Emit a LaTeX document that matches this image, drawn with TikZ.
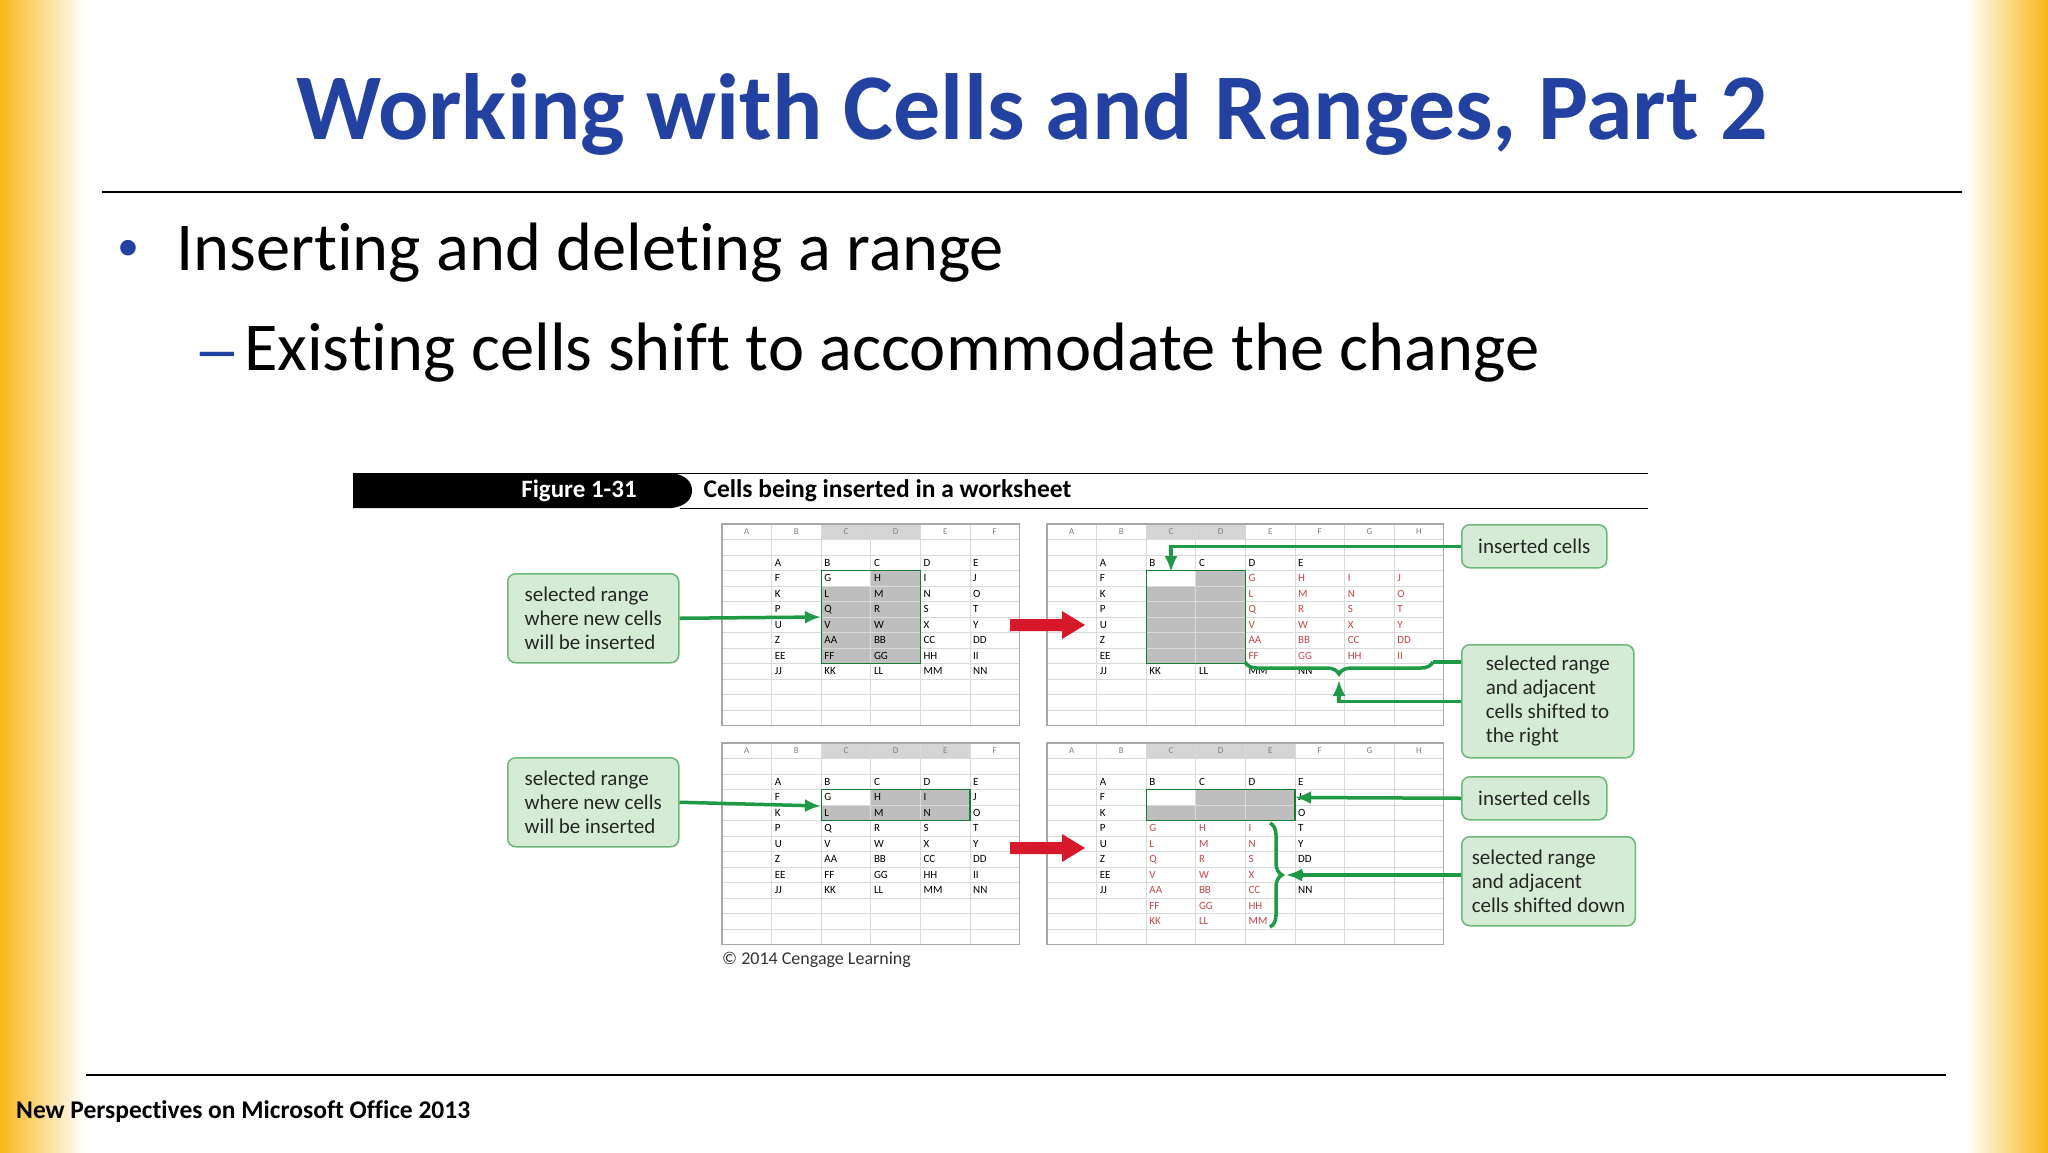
\documentclass[tikz,border=0pt]{standalone}
\usepackage{fontspec}
\setmainfont{Carlito}[Ligatures=NoCommon]
\usetikzlibrary{decorations.pathreplacing,arrows.meta}
\definecolor{titleblue}{HTML}{2341A0}
\definecolor{gl}{HTML}{DADADA}
\definecolor{gborder}{HTML}{A8A8A8}
\definecolor{selgray}{HTML}{BEBEBE}
\definecolor{hdrgray}{HTML}{D4D4D4}
\definecolor{redtxt}{HTML}{C8454A}
\definecolor{gline}{HTML}{1E9A46}
\definecolor{cfill}{HTML}{D5EBD5}
\definecolor{cdraw}{HTML}{6CB77A}
\definecolor{redarrow}{HTML}{D7182A}
\definecolor{yel}{HTML}{F9B718}
\def\cw{49.6}
\def\rh{15.5}
\tikzset{
 cell/.style={anchor=west,inner sep=0pt,font=\fontsize{11}{12}\selectfont},
 hdrtxt/.style={inner sep=0pt,font=\fontsize{9}{10}\selectfont,text=gray},
 callout/.style={draw=cdraw,line width=1.5pt,fill=cfill,rounded corners=8pt,align=left,anchor=north west,inner xsep=12pt,inner ysep=6pt,font=\fontsize{21}{24}\selectfont,text=black!85},
 garrow/.style={draw=gline,line width=3.5pt,-{Latex[length=16pt,width=13pt]}},
 gplain/.style={draw=gline,line width=3.5pt},
}
\newcommand\gridbg[3]{\fill[white] (#1,#2) rectangle ++({#3*\cw},{13*\rh});}
\newcommand\gridlines[4]{%
 \foreach \h in {#4} {\fill[hdrgray] ({#1+\h*\cw},#2) rectangle ++(\cw,\rh);
   \draw[gline!70,line width=1.2pt] ({#1+\h*\cw},{#2+\rh}) -- ++(\cw,0);}
 \foreach \i in {1,...,12} \draw[gl,line width=0.8pt] (#1,{#2+\i*\rh}) -- ++({#3*\cw},0);
 \foreach \j in {1,...,#3} \draw[gl,line width=0.8pt] ({#1+\j*\cw},#2) -- ++(0,{13*\rh});
 \foreach \L [count=\j from 0] in {A,B,C,D,E,F,G,H} {\ifnum\j<#3 \node[hdrtxt] at ({#1+(\j+0.5)*\cw},{#2+0.5*\rh}) {\L};\fi}
 \draw[gborder,line width=1.2pt] (#1,#2) rectangle ++({#3*\cw},{13*\rh});}
\newcommand\putrow[6]{\foreach \t [count=\c] in {#6} \node[cell,text=#5] at ({#1+(#4+\c-1)*\cw+3},{#2+(#3+0.5)*\rh}) {\t};}
\begin{document}
\begin{tikzpicture}[x=1pt,y=-1pt]
\useasboundingbox (0,0) rectangle (2048,1152);
\fill[white] (0,0) rectangle (2048,1152);
\shade[left color=yel,right color=white] (0,0) rectangle (85,1152);
\shade[left color=white,right color=yel] (1965,0) rectangle (2048,1152);
% title
\node[font=\bfseries\fontsize{94}{100}\selectfont,text=titleblue] (title) at (1032,114) {Working with Cells and Ranges, Part 2};
\draw[line width=1.5pt] (102,192) -- (1962,192);
\node[font=\fontsize{44}{44}\selectfont,text=titleblue] (bul) at (128,250) {•};
\node[anchor=west,inner sep=0pt,font=\fontsize{68.5}{72}\selectfont] (b1) at (176,253) {Inserting and deleting a range};
\node[anchor=west,inner sep=0pt,xscale=1.4,font=\fontsize{68.5}{72}\selectfont,text=titleblue] (dash) at (193,363) {–};
\node[anchor=west,inner sep=0pt,font=\fontsize{68.5}{72}\selectfont] (b2) at (244,353) {Existing cells shift to accommodate the change};
\draw[line width=1.5pt] (86,1075) -- (1946,1075);
\node[anchor=west,inner sep=0pt,font=\bfseries\fontsize{25.5}{27}\selectfont] (foot) at (16,1112) {New Perspectives on Microsoft Office 2013};
% figure header
\draw[line width=1pt] (353,473) -- (1648,473);
\draw[line width=1pt] (680,508) -- (1648,508);
\fill[black] (353,473) -- (672,473) .. controls (686,475) and (692,482) .. (692,490.5) .. controls (692,499) and (686,506) .. (672,508) -- (353,508) -- cycle;
\node[text=white,font=\bfseries\fontsize{25}{27}\selectfont] (fig) at (579,491) {Figure 1-31};
\node[anchor=west,font=\bfseries\fontsize{25.5}{27}\selectfont] (figt) at (700,491) {Cells being inserted in a worksheet};
% ===== grid TL
\gridbg{722}{524}{6}
\fill[selgray] ({722+2*\cw},{524+3*\rh}) rectangle ++({2*\cw},{6*\rh});
\fill[white] ({722+2*\cw},{524+3*\rh}) rectangle ++(\cw,\rh);
\gridlines{722}{524}{6}{2,3}
\draw[gline!80!black,line width=1.2pt] ({722+2*\cw},{524+3*\rh}) rectangle ++({2*\cw},{6*\rh});
\putrow{722}{524}{2}{1}{black}{A,B,C,D,E}
\putrow{722}{524}{3}{1}{black}{F,G,H,I,J}
\putrow{722}{524}{4}{1}{black}{K,L,M,N,O}
\putrow{722}{524}{5}{1}{black}{P,Q,R,S,T}
\putrow{722}{524}{6}{1}{black}{U,V,W,X,Y}
\putrow{722}{524}{7}{1}{black}{Z,AA,BB,CC,DD}
\putrow{722}{524}{8}{1}{black}{EE,FF,GG,HH,II}
\putrow{722}{524}{9}{1}{black}{JJ,KK,LL,MM,NN}
% ===== grid TR
\gridbg{1047}{524}{8}
\fill[selgray] ({1047+2*\cw},{524+3*\rh}) rectangle ++({2*\cw},{6*\rh});
\fill[white] ({1047+2*\cw},{524+3*\rh}) rectangle ++(\cw,\rh);
\gridlines{1047}{524}{8}{2,3}
\draw[gline!80!black,line width=1.2pt] ({1047+2*\cw},{524+3*\rh}) rectangle ++({2*\cw},{6*\rh});
\putrow{1047}{524}{2}{1}{black}{A,B,C,D,E}
\putrow{1047}{524}{3}{1}{black}{F}
\putrow{1047}{524}{4}{1}{black}{K}
\putrow{1047}{524}{5}{1}{black}{P}
\putrow{1047}{524}{6}{1}{black}{U}
\putrow{1047}{524}{7}{1}{black}{Z}
\putrow{1047}{524}{8}{1}{black}{EE}
\putrow{1047}{524}{9}{1}{black}{JJ,KK,LL,MM,NN}
\putrow{1047}{524}{3}{4}{redtxt}{G,H,I,J}
\putrow{1047}{524}{4}{4}{redtxt}{L,M,N,O}
\putrow{1047}{524}{5}{4}{redtxt}{Q,R,S,T}
\putrow{1047}{524}{6}{4}{redtxt}{V,W,X,Y}
\putrow{1047}{524}{7}{4}{redtxt}{AA,BB,CC,DD}
\putrow{1047}{524}{8}{4}{redtxt}{FF,GG,HH,II}
% ===== grid BL
\gridbg{722}{743}{6}
\fill[selgray] ({722+2*\cw},{743+3*\rh}) rectangle ++({3*\cw},{2*\rh});
\fill[white] ({722+2*\cw},{743+3*\rh}) rectangle ++(\cw,\rh);
\gridlines{722}{743}{6}{2,3,4}
\draw[gline!80!black,line width=1.2pt] ({722+2*\cw},{743+3*\rh}) rectangle ++({3*\cw},{2*\rh});
\putrow{722}{743}{2}{1}{black}{A,B,C,D,E}
\putrow{722}{743}{3}{1}{black}{F,G,H,I,J}
\putrow{722}{743}{4}{1}{black}{K,L,M,N,O}
\putrow{722}{743}{5}{1}{black}{P,Q,R,S,T}
\putrow{722}{743}{6}{1}{black}{U,V,W,X,Y}
\putrow{722}{743}{7}{1}{black}{Z,AA,BB,CC,DD}
\putrow{722}{743}{8}{1}{black}{EE,FF,GG,HH,II}
\putrow{722}{743}{9}{1}{black}{JJ,KK,LL,MM,NN}
% ===== grid BR
\gridbg{1047}{743}{8}
\fill[selgray] ({1047+2*\cw},{743+3*\rh}) rectangle ++({3*\cw},{2*\rh});
\fill[white] ({1047+2*\cw},{743+3*\rh}) rectangle ++(\cw,\rh);
\gridlines{1047}{743}{8}{2,3,4}
\draw[gline!80!black,line width=1.2pt] ({1047+2*\cw},{743+3*\rh}) rectangle ++({3*\cw},{2*\rh});
\putrow{1047}{743}{2}{1}{black}{A,B,C,D,E}
\putrow{1047}{743}{3}{1}{black}{F}
\putrow{1047}{743}{3}{5}{black}{J}
\putrow{1047}{743}{4}{1}{black}{K}
\putrow{1047}{743}{4}{5}{black}{O}
\putrow{1047}{743}{5}{1}{black}{P}
\putrow{1047}{743}{5}{5}{black}{T}
\putrow{1047}{743}{6}{1}{black}{U}
\putrow{1047}{743}{6}{5}{black}{Y}
\putrow{1047}{743}{7}{1}{black}{Z}
\putrow{1047}{743}{7}{5}{black}{DD}
\putrow{1047}{743}{8}{1}{black}{EE}
\putrow{1047}{743}{8}{5}{black}{II}
\putrow{1047}{743}{9}{1}{black}{JJ}
\putrow{1047}{743}{9}{5}{black}{NN}
\putrow{1047}{743}{5}{2}{redtxt}{G,H,I}
\putrow{1047}{743}{6}{2}{redtxt}{L,M,N}
\putrow{1047}{743}{7}{2}{redtxt}{Q,R,S}
\putrow{1047}{743}{8}{2}{redtxt}{V,W,X}
\putrow{1047}{743}{9}{2}{redtxt}{AA,BB,CC}
\putrow{1047}{743}{10}{2}{redtxt}{FF,GG,HH}
\putrow{1047}{743}{11}{2}{redtxt}{KK,LL,MM}
\node[anchor=north west,inner sep=0pt,font=\fontsize{18}{20}\selectfont,text=black!80] (copy) at (722,952) {© 2014 Cengage Learning};
% red arrows
\fill[redarrow] (1010,619) -- (1062,619) -- (1062,611) -- (1085,625) -- (1062,639) -- (1062,631) -- (1010,631) -- cycle;
\fill[redarrow] (1010,842) -- (1062,842) -- (1062,834) -- (1085,848) -- (1062,862) -- (1062,854) -- (1010,854) -- cycle;
% callouts
\node[callout,minimum width=171pt,minimum height=89pt] (c1) at (507,573) {selected range\\where new cells\\will be inserted};
\node[callout,minimum width=171pt,minimum height=89pt] (c2) at (507,757) {selected range\\where new cells\\will be inserted};
\node[callout,minimum width=145pt,minimum height=43pt] (c3) at (1461,524) {inserted cells};
\node[callout,minimum width=172pt,minimum height=113pt,inner xsep=10pt] (c4) at (1461,644) {selected range\\and adjacent\\cells shifted to\\the right};
\node[callout,minimum width=145pt,minimum height=43pt] (c5) at (1461,776) {inserted cells};
\node[callout,minimum width=172pt,minimum height=89pt,inner xsep=10pt] (c6) at (1461,836) {selected range\\and adjacent\\cells shifted down};
% connectors
\coordinate (t1) at (821,617);
\draw[garrow] (c1.east) -- (t1);
\coordinate (t2) at (821,806);
\draw[garrow] (c2.east) -- (t2);
\coordinate (t3) at (1171,572);
\draw[garrow] (c3.west) -| (t3);
\coordinate (br1) at (1245,662);
\coordinate (br2) at (1433,662);
\draw[gplain,decorate,decoration={brace,amplitude=12pt,mirror}] (br1) -- (br2);
\draw[gplain] (br2) -- (c4.west |- br2);
\coordinate (t4) at (1339,680);
\draw[garrow] (c4.west) -| (t4);
\coordinate (t5) at (1295,797.5);
\draw[garrow] (c5.west) -- (t5);
\coordinate (br3) at (1270,823);
\coordinate (br4) at (1270,927);
\draw[gplain,decorate,decoration={brace,amplitude=12pt}] (br3) -- (br4);
\coordinate (t6) at (1286,875);
\draw[garrow] (c6.west |- t6) -- (t6);
\end{tikzpicture}
\end{document}
